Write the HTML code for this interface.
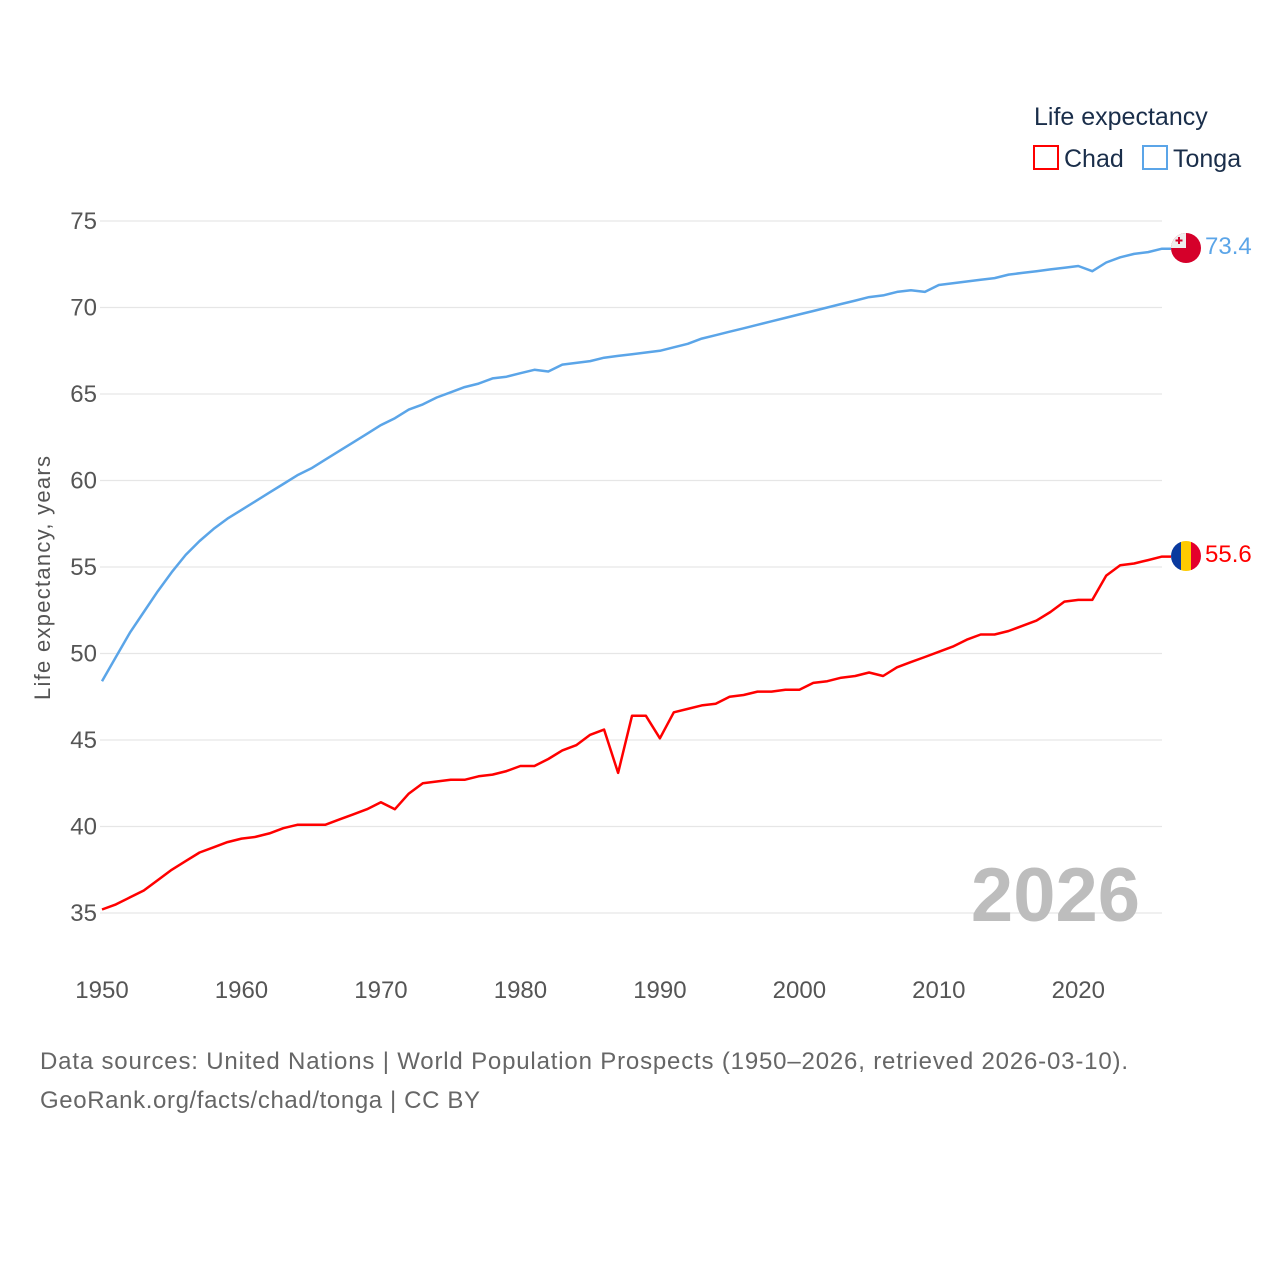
<!DOCTYPE html>
<html><head><meta charset="utf-8"><style>
body{margin:0;background:#fff;width:1280px;height:1280px;overflow:hidden;font-family:"Liberation Sans",sans-serif}
svg text{font-family:"Liberation Sans",sans-serif}
</style></head><body>
<svg id="chart" width="1280" height="1280">
<g id="grid"></g>
<g id="yticks"></g>
<g id="xticks"></g>
<text x="50" y="578" transform="rotate(-90 50 578)" text-anchor="middle" font-size="22" fill="#555" textLength="244">Life expectancy, years</text>
<text x="1140" y="921" text-anchor="end" font-size="76" font-weight="bold" fill="#bdbdbd">2026</text>
<g id="series"></g>
<text x="1034" y="125" font-size="25" fill="#1a2e4a">Life expectancy</text>
<g>
<rect x="1034" y="146" width="24" height="23" fill="none" stroke="#f00" stroke-width="2"/>
<text x="1064" y="167" font-size="25" fill="#1a2e4a">Chad</text></g>
<g>
<rect x="1143" y="146" width="24" height="23" fill="none" stroke="#5ba5e8" stroke-width="2"/>
<text x="1173" y="167" font-size="25" fill="#1a2e4a">Tonga</text></g>
<g>
<clipPath id="ct"><circle cx="1186" cy="248" r="15"/></clipPath>
<g clip-path="url(#ct)"><rect x="1171" y="233" width="30" height="30" fill="#d5002a"/><rect x="1171" y="233" width="15" height="15" fill="#eee"/><rect x="1178" y="237" width="2" height="7" fill="#d5002a"/><rect x="1175.5" y="239.5" width="7" height="2" fill="#d5002a"/></g></g>
<g>
<clipPath id="cc"><circle cx="1186" cy="556" r="15"/></clipPath>
<g clip-path="url(#cc)"><rect x="1171" y="541" width="10" height="30" fill="#0a3a9e"/><rect x="1181" y="541" width="10" height="30" fill="#fecb00"/><rect x="1191" y="541" width="10" height="30" fill="#e4002b"/></g></g>
<text x="1205" y="254" font-size="24" fill="#5ba5e8">73.4</text>
<text x="1205" y="562" font-size="24" fill="#f00">55.6</text>
<text x="40" y="1069" font-size="24" fill="#666" textLength="1088">Data sources: United Nations | World Population Prospects (1950–2026, retrieved 2026-03-10).</text>
<text x="40" y="1108" font-size="24" fill="#666" textLength="440">GeoRank.org/facts/chad/tonga | CC BY</text>
</svg>
<script>
const years=[];for(let y=1950;y<=2026;y++)years.push(y);
const chad=[35.2,35.5,35.9,36.3,36.9,37.5,38.0,38.5,38.8,39.1,39.3,39.4,39.6,39.9,40.1,40.1,40.1,40.4,40.7,41.0,41.4,41.0,41.9,42.5,42.6,42.7,42.7,42.9,43.0,43.2,43.5,43.5,43.9,44.4,44.7,45.3,45.6,43.1,46.4,46.4,45.1,46.6,46.8,47.0,47.1,47.5,47.6,47.8,47.8,47.9,47.9,48.3,48.4,48.6,48.7,48.9,48.7,49.2,49.5,49.8,50.1,50.4,50.8,51.1,51.1,51.3,51.6,51.9,52.4,53.0,53.1,53.1,54.5,55.1,55.2,55.4,55.6];
const tonga=[48.4,49.8,51.2,52.4,53.6,54.7,55.7,56.5,57.2,57.8,58.3,58.8,59.3,59.8,60.3,60.7,61.2,61.7,62.2,62.7,63.2,63.6,64.1,64.4,64.8,65.1,65.4,65.6,65.9,66.0,66.2,66.4,66.3,66.7,66.8,66.9,67.1,67.2,67.3,67.4,67.5,67.7,67.9,68.2,68.4,68.6,68.8,69.0,69.2,69.4,69.6,69.8,70.0,70.2,70.4,70.6,70.7,70.9,71.0,70.9,71.3,71.4,71.5,71.6,71.7,71.9,72.0,72.1,72.2,72.3,72.4,72.1,72.6,72.9,73.1,73.2,73.4];
const yTicks=[35,40,45,50,55,60,65,70,75];
const xTicks=[1950,1960,1970,1980,1990,2000,2010,2020];
const NS='http://www.w3.org/2000/svg';
function X(y){return 102+(y-1950)*(1162-102)/76;}
function Y(v){return 913-(v-35)*(913-221)/40;}
function mk(t,a,p){const e=document.createElementNS(NS,t);for(const k in a)e.setAttribute(k,a[k]);p.appendChild(e);return e;}
const grid=document.getElementById('grid'),yt=document.getElementById('yticks'),xt=document.getElementById('xticks'),ser=document.getElementById('series');
yTicks.forEach(v=>{
 const l=mk('line',{x1:100,x2:1162,y1:Y(v),y2:Y(v),stroke:'#e6e6e6','stroke-width':1.3},grid);
 
 
 const t=mk('text',{x:97,y:Y(v)+8,'text-anchor':'end','font-size':24,fill:'#555'},yt);t.textContent=v;
 
 
});
xTicks.forEach(v=>{
 const t=mk('text',{x:X(v),y:998,'text-anchor':'middle','font-size':24,fill:'#555'},xt);t.textContent=v;
 
 
});
function line(vals,col,name){
 const d=vals.map((v,i)=>(i?'L':'M')+X(years[i]).toFixed(1)+','+Y(v).toFixed(1)).join('')+'L1171,'+Y(vals[vals.length-1]).toFixed(1);
 const p=mk('path',{d:d,fill:'none',stroke:col,'stroke-width':2.5,'stroke-linejoin':'round'},ser);
 
 
}
line(tonga,'#5ba5e8','tonga-line');
line(chad,'#ff0000','chad-line');
</script>
</body></html>
